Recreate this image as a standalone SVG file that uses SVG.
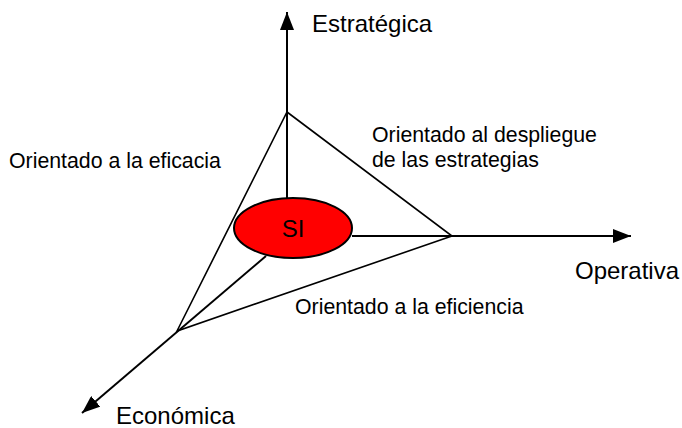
<svg xmlns="http://www.w3.org/2000/svg" width="682" height="428" viewBox="0 0 682 428">
<style>
.ax{stroke:#000;stroke-width:2;fill:none}
.tri{stroke:#000;stroke-width:1.6;fill:none}
.lbl{font-family:"Liberation Sans",Arial,sans-serif;font-size:21.3px;fill:#000}
.axl{font-family:"Liberation Sans",Arial,sans-serif;font-size:24px;fill:#000}
</style>
<defs>
<marker id="arr" viewBox="0 0 18 14" markerWidth="18" markerHeight="14" refX="18" refY="7" orient="auto" markerUnits="userSpaceOnUse">
<path d="M0,0 L18,7 L0,14 z" fill="#000"/>
</marker>
</defs>
<rect width="682" height="428" fill="#fff"/>
<g id="connectors">
<line class="ax" x1="287" y1="198" x2="287" y2="12" marker-end="url(#arr)"/>
<line class="ax" x1="352" y1="236" x2="631" y2="236" marker-end="url(#arr)"/>
<line class="ax" x1="266" y1="256" x2="82" y2="413" marker-end="url(#arr)"/>
<polygon class="tri" points="287,112 452,236 177,331"/>
</g>
<g id="node-si">
<ellipse cx="293" cy="228" rx="59" ry="30" fill="#ff0000" stroke="#000" stroke-width="2"/>
<text class="axl" x="293" y="236.5" text-anchor="middle">SI</text>
</g>
<g id="label-estrategica"><text class="axl" x="312" y="32">Estratégica</text></g>
<g id="label-operativa"><text class="axl" x="575" y="279">Operativa</text></g>
<g id="label-economica"><text class="axl" x="116" y="424">Económica</text></g>
<g id="label-eficacia"><text class="lbl" x="9" y="168">Orientado a la eficacia</text></g>
<g id="label-despliegue"><text class="lbl" x="372" y="142">Orientado al despliegue</text><text class="lbl" x="372" y="167">de las estrategias</text></g>
<g id="label-eficiencia"><text class="lbl" x="295" y="314">Orientado a la eficiencia</text></g>
</svg>
